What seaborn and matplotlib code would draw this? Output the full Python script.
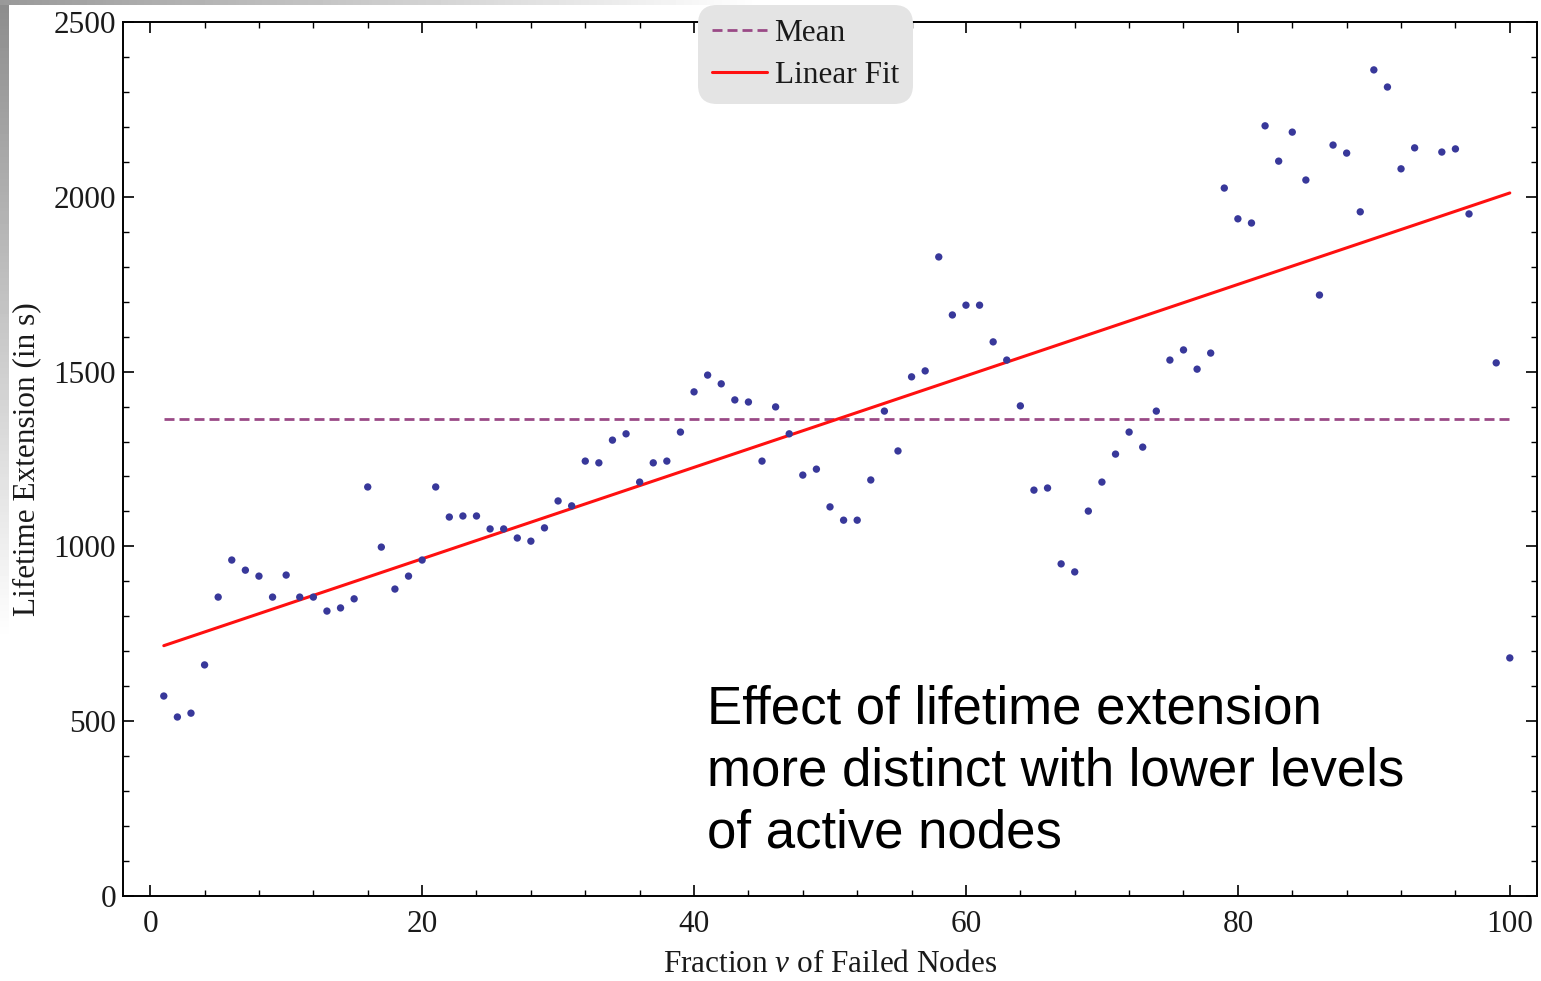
import numpy as np
import pandas as pd
import matplotlib
matplotlib.use("Agg")
import matplotlib.pyplot as plt
import seaborn as sns
from matplotlib.lines import Line2D

# ---------------- data ----------------
fraction_failed = [1, 2, 3, 4, 5, 6, 7, 8, 9, 10,
                   11, 12, 13, 14, 15, 16, 17, 18, 19, 20,
                   21, 22, 23, 24, 25, 26, 27, 28, 29, 30,
                   31, 32, 33, 34, 35, 36, 37, 38, 39, 40,
                   41, 42, 43, 44, 45, 46, 47, 48, 49, 50,
                   51, 52, 53, 54, 55, 56, 57, 58, 59, 60,
                   61, 62, 63, 64, 65, 66, 67, 68, 69, 70,
                   71, 72, 73, 74, 75, 76, 77, 78, 79, 80,
                   81, 82, 83, 84, 85, 86, 87, 88, 89, 90,
                   91, 92, 93, 95, 96, 97, 99, 100]
lifetime_extension = [572, 512, 523, 661, 855, 961, 932, 915, 855, 918,
                      855, 855, 815, 824, 850, 1170, 998, 878, 915, 961,
                      1170, 1084, 1087, 1087, 1050, 1050, 1024, 1015, 1053, 1130,
                      1116, 1244, 1239, 1304, 1322, 1184, 1239, 1244, 1327, 1442,
                      1490, 1465, 1419, 1413, 1244, 1399, 1322, 1204, 1221, 1113,
                      1075, 1075, 1190, 1387, 1273, 1485, 1502, 1828, 1662, 1690,
                      1690, 1585, 1533, 1402, 1161, 1167, 950, 927, 1101, 1184,
                      1264, 1327, 1284, 1387, 1533, 1562, 1507, 1553, 2025, 1937,
                      1925, 2203, 2102, 2185, 2048, 1719, 2148, 2125, 1957, 2363,
                      2314, 2080, 2140, 2128, 2137, 1951, 1525, 681]
mean_value = 1364          # dashed "Mean" level
fit_start = (1, 716)       # linear fit endpoints
fit_end = (100, 2011)

x_ticks = [0, 20, 40, 60, 80, 100]
y_ticks = [0, 500, 1000, 1500, 2000, 2500]
x_label = r"Fraction $\nu$ of Failed Nodes"
y_label = "Lifetime Extension (in s)"
legend_labels = ["Mean", "Linear Fit"]
annotation = "Effect of lifetime extension\nmore distinct with lower levels\nof active nodes"

df = pd.DataFrame({"x": fraction_failed, "y": lifetime_extension})
fit_df = pd.DataFrame({"x": [fit_start[0], fit_end[0]], "y": [fit_start[1], fit_end[1]]})

# ---------------- style ----------------
sns.set_theme(style="ticks")
plt.rcParams["font.family"] = ["Liberation Serif", "DejaVu Serif"]
plt.rcParams["mathtext.fontset"] = "custom"
plt.rcParams["mathtext.rm"] = "Liberation Serif"
plt.rcParams["mathtext.it"] = "Liberation Serif:italic"

W, H = 1541, 981
fig = plt.figure(figsize=(W / 100, H / 100), dpi=100)
fig.patch.set_facecolor("white")
ax = fig.add_axes([123 / W, 1 - 896 / H, (1537 - 123) / W, (896 - 22) / H])
ax.set_facecolor("white")

# decorative slide gradient edges
gl = fig.add_axes([0, 1 - 640 / H, 9 / W, 640 / H], zorder=-5)
gl.imshow(np.linspace(0.55, 1.0, 200).reshape(-1, 1), cmap="gray", vmin=0, vmax=1,
          aspect="auto", extent=[0, 1, 0, 1])
gl.axis("off")
gt = fig.add_axes([0, 1 - 5 / H, 760 / W, 5 / H], zorder=-5)
gt.imshow(np.linspace(0.6, 1.0, 200).reshape(1, -1), cmap="gray", vmin=0, vmax=1,
          aspect="auto", extent=[0, 1, 0, 1])
gt.axis("off")

mean_color = "#9a4a86"
fit_color = "#ff1010"
dash = (0, (3.6, 1.8))

# mean line
mean_line = ax.hlines(mean_value, fraction_failed[0], fraction_failed[-1],
                      colors=mean_color, linewidth=2.0, zorder=2)
mean_line.set_linestyle(dash)
# linear fit
sns.lineplot(data=fit_df, x="x", y="y", ax=ax, color=fit_color, linewidth=2.2,
             zorder=3)
# data points
sns.scatterplot(data=df, x="x", y="y", ax=ax, color="#38389a", s=28,
                edgecolor="none", zorder=4)

ax.set_xlim(-2, 102)
ax.set_ylim(0, 2500)
ax.set_xticks(x_ticks)
ax.set_yticks(y_ticks)
ax.set_xticks(np.arange(0, 101, 4), minor=True)
ax.set_yticks(np.arange(0, 2501, 100), minor=True)
ax.tick_params(which="both", direction="in", top=True, right=True, color="black",
               labelsize=22.5, labelcolor="#1a1a1a")
ax.tick_params(which="major", length=8, width=1.2)
ax.tick_params(which="minor", length=4, width=1.0)
ax.tick_params(axis="x", which="major", pad=10)
ax.tick_params(axis="y", which="major", pad=5)
for s in ax.spines.values():
    s.set_color("black")
    s.set_linewidth(1.4)

ax.set_xlabel(x_label, fontsize=22.5, color="#1a1a1a", labelpad=8)
ax.set_ylabel(y_label, fontsize=22.5, color="#1a1a1a", labelpad=9)

# legend
handles = [Line2D([], [], color=mean_color, linewidth=2.0, linestyle=dash),
           Line2D([], [], color=fit_color, linewidth=2.2)]
leg = fig.legend(handles, legend_labels, loc="upper left",
                 bbox_to_anchor=(698 / W, 1 - 5 / H), frameon=True, fancybox=True,
                 fontsize=22.5, handlelength=1.75, handletextpad=0.25,
                 labelspacing=0.4, borderpad=0.45, borderaxespad=0)
frame = leg.get_frame()
frame.set_facecolor("#e4e4e4")
frame.set_edgecolor("none")
frame.set_alpha(1)
frame.set_boxstyle("round", pad=0, rounding_size=0.6)
for t in leg.get_texts():
    t.set_color("#1a1a1a")

fig.text(707 / W, 1 - 684 / H, annotation, fontsize=38, family="Liberation Sans",
         color="black", va="top", ha="left", linespacing=1.31)

fig.savefig("out.png", dpi=100, facecolor="white")
